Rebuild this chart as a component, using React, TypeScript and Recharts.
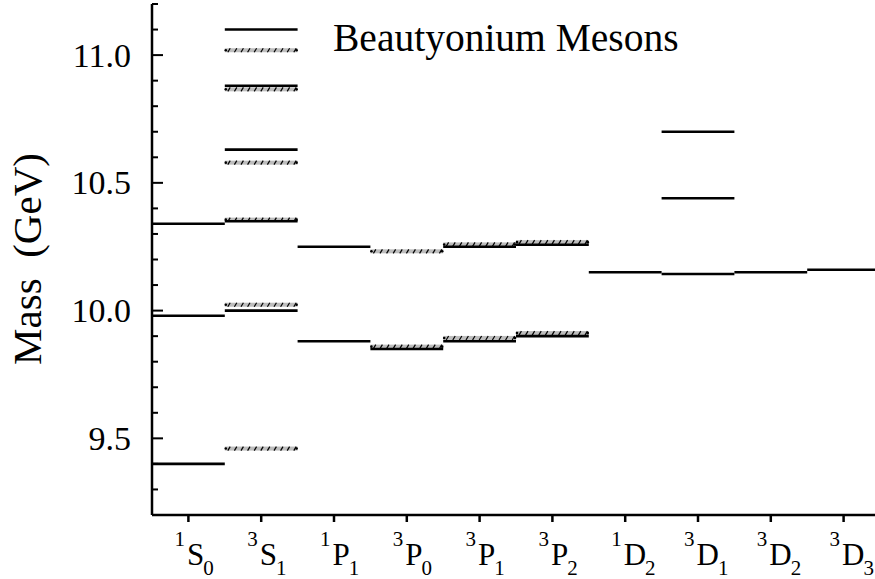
import { ComposedChart, XAxis, YAxis, ReferenceLine } from 'recharts'

const FONT = '"Liberation Serif", "Times New Roman", serif'

// spectroscopic terms along the x axis
const termPos = [1, 2, 3, 4, 5, 6, 7, 8, 9, 10]
const termSup = ['1', '3', '1', '3', '3', '3', '1', '3', '3', '3']
const termLetter = ['S', 'S', 'P', 'P', 'P', 'P', 'D', 'D', 'D', 'D']
const termSub = ['0', '1', '1', '0', '1', '2', '2', '1', '2', '3']

// model levels (solid lines)
const modelTerm = [1, 1, 1, 2, 2, 2, 2, 2, 3, 3, 4, 5, 5, 6, 6, 7, 8, 8, 8, 9, 10]
const modelMass = [
  9.4, 9.98, 10.34, 10.0, 10.35, 10.63, 10.88, 11.1, 9.88, 10.25, 9.85, 9.88, 10.25, 9.9,
  10.258, 10.15, 10.143, 10.44, 10.7, 10.15, 10.16,
]

// measured levels (hatched)
const expTerm = [2, 2, 2, 2, 2, 2, 4, 4, 5, 5, 6, 6]
const expMass = [9.46, 10.023, 10.356, 10.579, 10.866, 11.019, 9.859, 10.232, 9.893, 10.259, 9.912, 10.268]

const massTicks = [
  9.2, 9.3, 9.4, 9.5, 9.6, 9.7, 9.8, 9.9, 10.0, 10.1, 10.2, 10.3, 10.4, 10.5, 10.6, 10.7, 10.8,
  10.9, 11.0, 11.1, 11.2,
]

const isMajor = (v: number) => Math.abs(v * 2 - Math.round(v * 2)) < 1e-6

function LeftTick(props: any) {
  const { x, y, payload } = props
  const major = isMajor(payload.value)
  return (
    <g>
      <line x1={x} x2={x + (major ? 11 : 6)} y1={y} y2={y} stroke="#000" strokeWidth={2} />
      {major && (
        <text
          x={x - 21}
          y={y}
          dy={11.5}
          textAnchor="end"
          fontSize={34}
          fill="#000"
          style={{ fontFamily: FONT }}
        >
          {payload.value.toFixed(1)}
        </text>
      )}
    </g>
  )
}

function RightTick(props: any) {
  const { x, y, payload } = props
  const major = isMajor(payload.value)
  return <line x1={x} x2={x - (major ? 11 : 6)} y1={y} y2={y} stroke="#000" strokeWidth={2} />
}

function TermTick(props: any) {
  const { x, y, payload } = props
  const i = termPos.indexOf(payload.value)
  return (
    <text x={x - 14} y={y + 43} fill="#000" style={{ fontFamily: FONT }}>
      <tspan fontSize={21} dy={-19}>{termSup[i]}</tspan>
      <tspan fontSize={31} dx={2} dy={19}>{termLetter[i]}</tspan>
      <tspan fontSize={21} dx={-1} dy={10}>{termSub[i]}</tspan>
    </text>
  )
}

function HatchLevel(props: any) {
  const { x1, x2, y1 } = props
  const marks = []
  for (let x = x1 + 3; x < x2 - 2; x += 6.6) {
    marks.push(
      <line key={x} x1={x} y1={y1 + 2} x2={x + 2.4} y2={y1 - 2} stroke="#000" strokeWidth={1.2} />
    )
  }
  return (
    <g>
      <rect x={x1} y={y1 - 2} width={x2 - x1} height={4} fill="#bdbdbd" />
      {marks}
      <circle cx={x1 + 1} cy={y1} r={1.3} fill="#000" />
      <circle cx={x2 - 1} cy={y1} r={1.3} fill="#000" />
    </g>
  )
}

export default function App() {
  return (
    <div
      style={{
        position: 'absolute',
        left: 0,
        top: 0,
        width: 875,
        height: 579,
        overflow: 'hidden',
        background: '#fff',
        fontFamily: FONT,
      }}
    >
      <ComposedChart width={890} height={579} margin={{ top: 4, right: 0, bottom: 0, left: 0 }}>
        <XAxis
          xAxisId="b"
          type="number"
          dataKey="x"
          domain={[0.5, 10.5]}
          ticks={termPos}
          interval={0}
          height={64}
          tickSize={7}
          tickMargin={0}
          axisLine={{ stroke: '#000', strokeWidth: 2.5 }}
          tickLine={{ stroke: '#000', strokeWidth: 2.5 }}
          tick={<TermTick />}
          allowDataOverflow
        />
        <XAxis
          xAxisId="t"
          orientation="top"
          type="number"
          domain={[0.5, 10.5]}
          height={0}
          tick={false}
          tickLine={false}
          axisLine={{ stroke: '#000', strokeWidth: 2.5 }}
        />
        <YAxis
          yAxisId="l"
          type="number"
          domain={[9.2, 11.2]}
          ticks={massTicks}
          interval={0}
          width={152}
          tickSize={0}
          tickMargin={0}
          axisLine={{ stroke: '#000', strokeWidth: 2.5 }}
          tickLine={false}
          tick={<LeftTick />}
          allowDataOverflow
        />
        <YAxis
          yAxisId="r"
          orientation="right"
          type="number"
          domain={[9.2, 11.2]}
          ticks={massTicks}
          interval={0}
          width={10}
          tickSize={0}
          tickMargin={0}
          axisLine={{ stroke: '#000', strokeWidth: 2.5 }}
          tickLine={false}
          tick={<RightTick />}
        />
        {expMass.map((m, i) => (
          <ReferenceLine
            key={'e' + i}
            xAxisId="b"
            yAxisId="l"
            segment={[
              { x: expTerm[i] - 0.5, y: m },
              { x: expTerm[i] + 0.5, y: m },
            ]}
            shape={(p: any) => <HatchLevel {...p} />}
          />
        ))}
        {modelMass.map((m, i) => (
          <ReferenceLine
            key={'m' + i}
            xAxisId="b"
            yAxisId="l"
            segment={[
              { x: modelTerm[i] - 0.5, y: m },
              { x: modelTerm[i] + 0.5, y: m },
            ]}
            stroke="#000"
            strokeWidth={2.6}
          />
        ))}
      </ComposedChart>
      <svg
        width={875}
        height={579}
        style={{ position: 'absolute', left: 0, top: 0, pointerEvents: 'none' }}
      >
        <text x={333} y={50.5} fontSize={39.5} fill="#000" style={{ fontFamily: FONT }}>
          Beautyonium Mesons
        </text>
        <text
          x={41}
          y={259}
          transform="rotate(-90 41 259)"
          textAnchor="middle"
          fontSize={41}
          fill="#000"
          style={{ whiteSpace: 'pre', fontFamily: FONT }}
        >
          {'Mass  (GeV)'}
        </text>
      </svg>
    </div>
  )
}
